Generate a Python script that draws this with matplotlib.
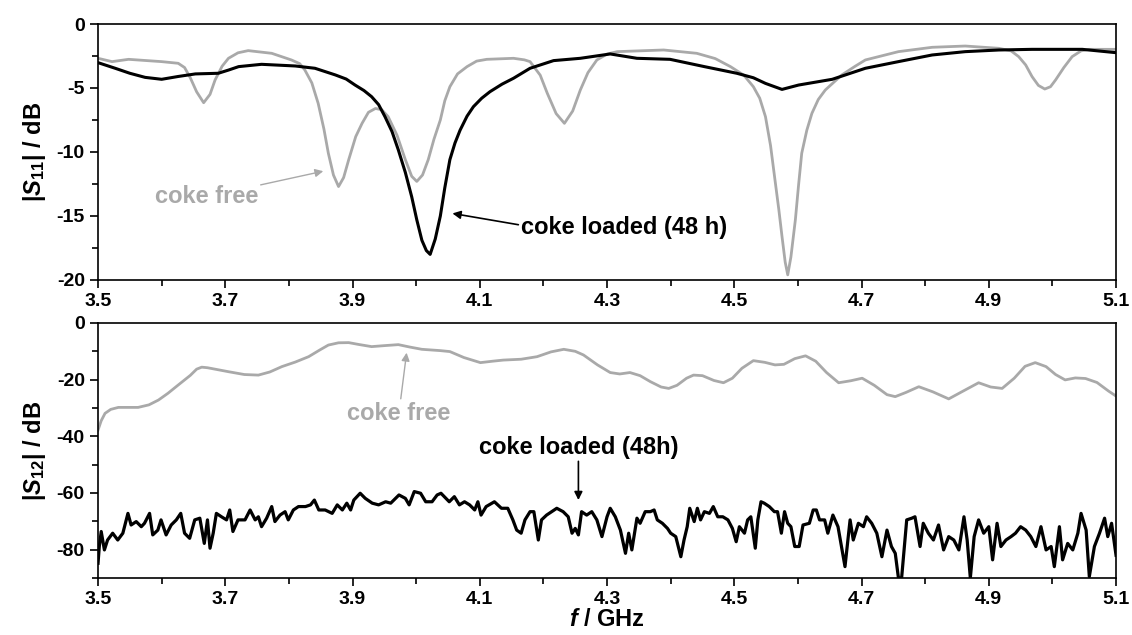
import matplotlib
matplotlib.use("Agg")
import matplotlib.pyplot as plt
from matplotlib.ticker import MultipleLocator

plt.rcParams['font.family'] = ['Liberation Sans', 'DejaVu Sans']
plt.rcParams['font.weight'] = 'bold'
plt.rcParams['axes.unicode_minus'] = False
plt.rcParams['mathtext.fontset'] = 'custom'
plt.rcParams['mathtext.rm'] = 'Liberation Sans:bold'
plt.rcParams['mathtext.it'] = 'Liberation Sans:italic:bold'
plt.rcParams['mathtext.bf'] = 'Liberation Sans:bold'

GRIS = '#a9a9a9'

# |S11| sin coque
f_s11_libre = [3.5, 3.522, 3.548, 3.600, 3.626, 3.636, 3.645, 3.655, 3.666, 3.676, 3.684,
               3.695, 3.705, 3.720, 3.736, 3.773, 3.804, 3.817, 3.825, 3.836, 3.846,
               3.855, 3.862, 3.870, 3.878, 3.886, 3.894, 3.905, 3.915, 3.925, 3.936,
               3.946, 3.956, 3.970, 3.983, 3.993, 4.001, 4.010, 4.019, 4.028, 4.038,
               4.045, 4.053, 4.065, 4.080, 4.095, 4.111, 4.153, 4.170, 4.179, 4.195,
               4.206, 4.220, 4.233, 4.246, 4.258, 4.270, 4.284, 4.300, 4.316, 4.389,
               4.441, 4.470, 4.494, 4.515, 4.530, 4.540, 4.549, 4.557, 4.564, 4.570,
               4.575, 4.580, 4.584, 4.589, 4.596, 4.601, 4.606, 4.614, 4.622, 4.632,
               4.643, 4.669, 4.690, 4.706, 4.758, 4.811, 4.863, 4.916, 4.935, 4.947,
               4.958, 4.968, 4.978, 4.988, 4.997, 5.005, 5.018, 5.031, 5.045, 5.057, 5.1]
s11_libre = [-2.68, -2.94, -2.76, -2.94, -3.07, -3.4, -4.2, -5.3, -6.15, -5.5, -4.37,
             -3.3, -2.68, -2.25, -2.08, -2.29, -2.81, -3.1, -3.59, -4.6, -6.2,
             -8.2, -10.1, -11.8, -12.7, -12.0, -10.6, -8.8, -7.76, -6.9, -6.6,
             -6.7, -7.24, -8.7, -10.6, -11.9, -12.3, -11.8, -10.6, -9.0, -7.5,
             -6.0, -4.9, -3.9, -3.33, -2.9, -2.76, -2.68, -2.8, -2.94, -4.0,
             -5.4, -7.0, -7.76, -6.8, -5.16, -3.8, -2.81, -2.35, -2.16, -2.03,
             -2.29, -2.7, -3.33, -4.0, -4.9, -5.8, -7.24, -9.5, -12.2, -14.5,
             -16.6, -18.6, -19.6, -18.2, -15.3, -12.6, -10.1, -8.3, -6.98, -5.9,
             -5.16, -3.98, -3.3, -2.81, -2.16, -1.82, -1.72, -1.9, -2.1, -2.55,
             -3.2, -4.11, -4.8, -5.08, -4.9, -4.37, -3.4, -2.55, -2.1, -1.98, -1.98]

# |S11| con coque (48 h)
f_s11_coque = [3.5, 3.527, 3.550, 3.574, 3.600, 3.626, 3.653, 3.689, 3.705, 3.721, 3.757,
               3.810, 3.841, 3.873, 3.890, 3.904, 3.918, 3.930, 3.941, 3.951, 3.962,
               3.972, 3.983, 3.993, 4.001, 4.009, 4.016, 4.022, 4.030, 4.038, 4.045,
               4.053, 4.061, 4.069, 4.080, 4.090, 4.103, 4.116, 4.135, 4.153, 4.179,
               4.216, 4.258, 4.305, 4.347, 4.399, 4.453, 4.504, 4.530, 4.549, 4.575,
               4.601, 4.654, 4.706, 4.758, 4.811, 4.863, 4.916, 4.968, 5.047, 5.1]
s11_coque = [-3.02, -3.46, -3.85, -4.17, -4.32, -4.1, -3.9, -3.85, -3.6, -3.33, -3.15,
             -3.28, -3.46, -3.98, -4.3, -4.77, -5.2, -5.68, -6.3, -7.24, -8.4,
             -9.84, -11.6, -13.5, -15.3, -16.9, -17.7, -18.0, -16.8, -15.0, -12.8,
             -10.6, -9.3, -8.3, -7.2, -6.46, -5.8, -5.29, -4.7, -4.24, -3.46,
             -2.86, -2.68, -2.34, -2.68, -2.76, -3.33, -3.85, -4.2, -4.64, -5.11,
             -4.77, -4.32, -3.46, -2.94, -2.42, -2.16, -2.03, -1.98, -1.98, -2.24]

# |S12| sin coque
f_s12_libre = [3.5, 3.505, 3.511, 3.520, 3.532, 3.563, 3.580, 3.595, 3.610, 3.626, 3.645,
               3.655, 3.663, 3.672, 3.705, 3.730, 3.752, 3.770, 3.789, 3.810, 3.831,
               3.848, 3.862, 3.878, 3.894, 3.910, 3.930, 3.950, 3.972, 3.990, 4.009,
               4.038, 4.053, 4.075, 4.101, 4.120, 4.137, 4.165, 4.190, 4.212, 4.232,
               4.250, 4.263, 4.285, 4.305, 4.320, 4.336, 4.352, 4.368, 4.385, 4.397,
               4.410, 4.425, 4.436, 4.450, 4.468, 4.483, 4.497, 4.512, 4.530, 4.548,
               4.564, 4.578, 4.595, 4.612, 4.628, 4.645, 4.664, 4.683, 4.701, 4.720,
               4.740, 4.753, 4.770, 4.790, 4.812, 4.837, 4.860, 4.884, 4.903, 4.921,
               4.940, 4.957, 4.973, 4.990, 5.005, 5.020, 5.036, 5.052, 5.070, 5.088, 5.1]
s12_libre = [-37.8, -34.5, -31.9, -30.5, -29.8, -29.8, -28.9, -27.2, -24.8, -21.9, -18.5,
             -16.3, -15.6, -15.8, -17.2, -18.2, -18.4, -17.3, -15.4, -13.8, -11.9,
             -9.6, -7.8, -7.0, -6.94, -7.6, -8.35, -8.0, -7.65, -8.5, -9.3,
             -9.76, -10.1, -12.2, -14.0, -13.5, -13.1, -12.8, -11.9, -10.2, -9.3,
             -10.0, -11.3, -14.8, -17.5, -18.0, -17.5, -18.6, -20.7, -22.6, -23.1,
             -22.0, -19.5, -18.4, -18.6, -20.3, -21.1, -19.5, -16.0, -13.3, -13.9,
             -14.8, -14.6, -12.6, -11.6, -13.5, -17.5, -21.1, -20.4, -19.5, -22.0,
             -25.3, -26.0, -24.5, -22.5, -24.3, -26.8, -24.0, -21.1, -22.6, -23.1,
             -19.5, -15.3, -14.0, -15.4, -18.2, -20.1, -19.4, -19.6, -21.0, -24.0, -25.8]

# |S12| con coque (48h)
f_s12_coque = [3.500, 3.502, 3.505, 3.510, 3.515, 3.523, 3.531, 3.539, 3.547, 3.552, 3.560,
               3.568, 3.573, 3.581, 3.586, 3.594, 3.599, 3.607, 3.615, 3.623, 3.630,
               3.636, 3.644, 3.652, 3.660, 3.667, 3.672, 3.676, 3.681, 3.686, 3.694,
               3.702, 3.707, 3.712, 3.720, 3.731, 3.739, 3.747, 3.752, 3.757, 3.765,
               3.773, 3.778, 3.786, 3.794, 3.799, 3.807, 3.815, 3.826, 3.834, 3.840,
               3.847, 3.857, 3.868, 3.876, 3.884, 3.891, 3.897, 3.902, 3.912, 3.920,
               3.931, 3.941, 3.952, 3.960, 3.973, 3.983, 3.989, 3.997, 4.007, 4.015,
               4.025, 4.033, 4.039, 4.052, 4.060, 4.068, 4.076, 4.084, 4.092, 4.097,
               4.102, 4.110, 4.123, 4.134, 4.144, 4.152, 4.158, 4.165, 4.171, 4.179,
               4.185, 4.192, 4.197, 4.205, 4.213, 4.221, 4.231, 4.239, 4.245, 4.250,
               4.255, 4.260, 4.268, 4.276, 4.284, 4.292, 4.300, 4.305, 4.313, 4.321,
               4.329, 4.334, 4.339, 4.347, 4.352, 4.360, 4.368, 4.374, 4.379, 4.387,
               4.395, 4.400, 4.408, 4.416, 4.421, 4.426, 4.430, 4.437, 4.442, 4.447,
               4.453, 4.461, 4.467, 4.474, 4.482, 4.490, 4.497, 4.503, 4.508, 4.516,
               4.521, 4.526, 4.533, 4.537, 4.542, 4.547, 4.555, 4.563, 4.568, 4.574,
               4.579, 4.584, 4.589, 4.595, 4.602, 4.608, 4.618, 4.624, 4.629, 4.634,
               4.642, 4.647, 4.655, 4.663, 4.674, 4.682, 4.687, 4.695, 4.703, 4.708,
               4.716, 4.724, 4.732, 4.740, 4.747, 4.753, 4.758, 4.763, 4.771, 4.779,
               4.784, 4.792, 4.797, 4.805, 4.813, 4.821, 4.829, 4.837, 4.845, 4.853,
               4.861, 4.866, 4.871, 4.877, 4.884, 4.892, 4.900, 4.906, 4.913, 4.919,
               4.927, 4.935, 4.942, 4.950, 4.958, 4.966, 4.974, 4.982, 4.990, 4.998,
               5.003, 5.011, 5.016, 5.024, 5.032, 5.040, 5.045, 5.053, 5.058, 5.066,
               5.074, 5.082, 5.087, 5.093, 5.1]
s12_coque = [-84.8, -78.9, -73.6, -80.1, -76.6, -74.2, -76.6, -74.2, -67.2, -71.3, -70.1,
             -71.9, -70.7, -67.2, -74.8, -73.1, -69.5, -74.8, -71.3, -69.5, -67.2,
             -74.2, -76.0, -69.5, -68.9, -77.8, -69.5, -79.5, -74.2, -67.2, -68.4,
             -69.5, -66.0, -73.6, -69.5, -69.5, -66.0, -69.5, -68.4, -71.9, -68.9,
             -64.8, -70.1, -67.8, -66.6, -69.5, -66.0, -64.8, -64.8, -64.2, -62.5,
             -66.0, -66.0, -67.2, -64.2, -66.0, -63.6, -66.0, -62.5, -60.1, -61.9,
             -63.6, -64.2, -63.1, -63.6, -60.7, -61.9, -64.2, -59.5, -60.1, -63.1,
             -63.1, -60.7, -60.1, -63.1, -61.3, -64.2, -63.1, -64.2, -66.0, -63.1,
             -67.8, -64.8, -63.1, -65.4, -65.4, -69.5, -73.1, -74.2, -69.5, -66.6,
             -66.6, -76.6, -69.5, -67.8, -66.6, -65.4, -66.6, -68.4, -74.2, -72.5,
             -74.8, -66.6, -67.8, -66.6, -69.5, -75.4, -68.4, -65.4, -68.4, -73.1,
             -81.3, -74.2, -80.1, -68.9, -70.7, -66.6, -66.6, -66.0, -69.5, -70.7,
             -72.5, -74.2, -75.4, -82.5, -76.6, -71.9, -65.4, -70.1, -65.4, -69.5,
             -66.6, -67.2, -64.8, -68.4, -68.4, -69.5, -72.5, -77.2, -71.9, -74.2,
             -69.5, -68.4, -79.5, -69.5, -63.1, -63.6, -64.8, -66.6, -66.6, -74.2,
             -66.6, -70.7, -71.9, -78.9, -78.9, -71.3, -70.7, -66.0, -66.0, -69.5,
             -69.5, -74.2, -67.8, -71.9, -86.0, -69.5, -76.6, -70.7, -71.9, -68.4,
             -70.7, -74.2, -82.5, -73.1, -78.9, -81.3, -90.0, -90.0, -69.5, -68.9,
             -68.4, -78.9, -70.7, -74.2, -76.6, -71.3, -80.1, -75.4, -76.6, -80.1,
             -68.4, -76.6, -90.0, -75.4, -69.5, -74.2, -71.9, -83.6, -70.7, -78.9,
             -76.6, -75.4, -74.2, -71.9, -73.1, -75.4, -78.9, -71.9, -80.1, -78.9,
             -86.0, -71.9, -83.6, -77.8, -80.1, -74.2, -67.2, -73.1, -89.5, -78.9,
             -74.2, -68.9, -75.4, -70.7, -82.0]

xticks = [3.5, 3.7, 3.9, 4.1, 4.3, 4.5, 4.7, 4.9, 5.1]

fig = plt.figure(figsize=(11.32, 6.35), dpi=100)
ax1 = fig.add_axes([0.0866, 0.5591, 0.8993, 0.4031])
ax2 = fig.add_axes([0.0866, 0.0898, 0.8993, 0.4016])

ax1.plot(f_s11_libre, s11_libre, color=GRIS, lw=2.0, solid_joinstyle='round')
ax1.plot(f_s11_coque, s11_coque, color='black', lw=2.2, solid_joinstyle='round')
ax2.plot(f_s12_libre, s12_libre, color=GRIS, lw=2.0, solid_joinstyle='round')
ax2.plot(f_s12_coque, s12_coque, color='black', lw=2.3, solid_joinstyle='round')

for ax in (ax1, ax2):
    ax.set_xlim(3.5, 5.1)
    ax.set_xticks(xticks)
    ax.set_xticklabels([f"{t:.1f}" for t in xticks])
    ax.xaxis.set_minor_locator(MultipleLocator(0.1))
    ax.tick_params(which='both', direction='out', top=False, right=False,
                   width=1.2, labelsize=14)
    ax.tick_params(which='major', length=6)
    ax.tick_params(which='minor', length=4)
    for sp in ax.spines.values():
        sp.set_linewidth(1.2)
    for lab in ax.get_xticklabels() + ax.get_yticklabels():
        lab.set_fontweight('bold')

ax1.set_ylim(-20, 0)
ax1.yaxis.set_major_locator(MultipleLocator(5))
ax1.yaxis.set_minor_locator(MultipleLocator(2.5))
ax2.set_ylim(-90, 0)
ax2.yaxis.set_major_locator(MultipleLocator(20))
ax2.yaxis.set_minor_locator(MultipleLocator(10))

ax1.set_ylabel(r'|$S_{11}$| / dB', fontsize=17, fontweight='bold', labelpad=6)
ax2.set_ylabel(r'|$S_{12}$| / dB', fontsize=17, fontweight='bold', labelpad=6)
ax2.set_xlabel(r'$f$ / GHz', fontsize=17, fontweight='bold', labelpad=0)

ax1.annotate('coke free', xy=(3.854, -11.5), xytext=(3.67, -13.5),
             color=GRIS, fontsize=17, fontweight='bold', ha='center', va='center',
             arrowprops=dict(arrowstyle='-|>', color=GRIS, lw=1.0, shrinkA=50, shrinkB=0,
                             mutation_scale=12))
ax1.annotate('coke loaded (48 h)', xy=(4.057, -14.8), xytext=(4.327, -15.9),
             color='black', fontsize=17, fontweight='bold', ha='center', va='center',
             arrowprops=dict(arrowstyle='-|>', color='black', lw=1.2, shrinkA=0, shrinkB=0,
                             mutation_scale=12, relpos=(0, 0.6)))
ax2.annotate('coke free', xy=(3.985, -10.5), xytext=(3.972, -31.8),
             color=GRIS, fontsize=17, fontweight='bold', ha='center', va='center',
             arrowprops=dict(arrowstyle='-|>', color=GRIS, lw=1.0, shrinkA=0, shrinkB=0,
                             mutation_scale=12, relpos=(0.52, 1.0)))
ax2.annotate('coke loaded (48h)', xy=(4.255, -62.5), xytext=(4.255, -43.8),
             color='black', fontsize=17, fontweight='bold', ha='center', va='center',
             arrowprops=dict(arrowstyle='-|>', color='black', lw=1.2, shrinkA=0, shrinkB=0,
                             mutation_scale=12, relpos=(0.5, 0.0)))

fig.savefig('out.png', dpi=100)
